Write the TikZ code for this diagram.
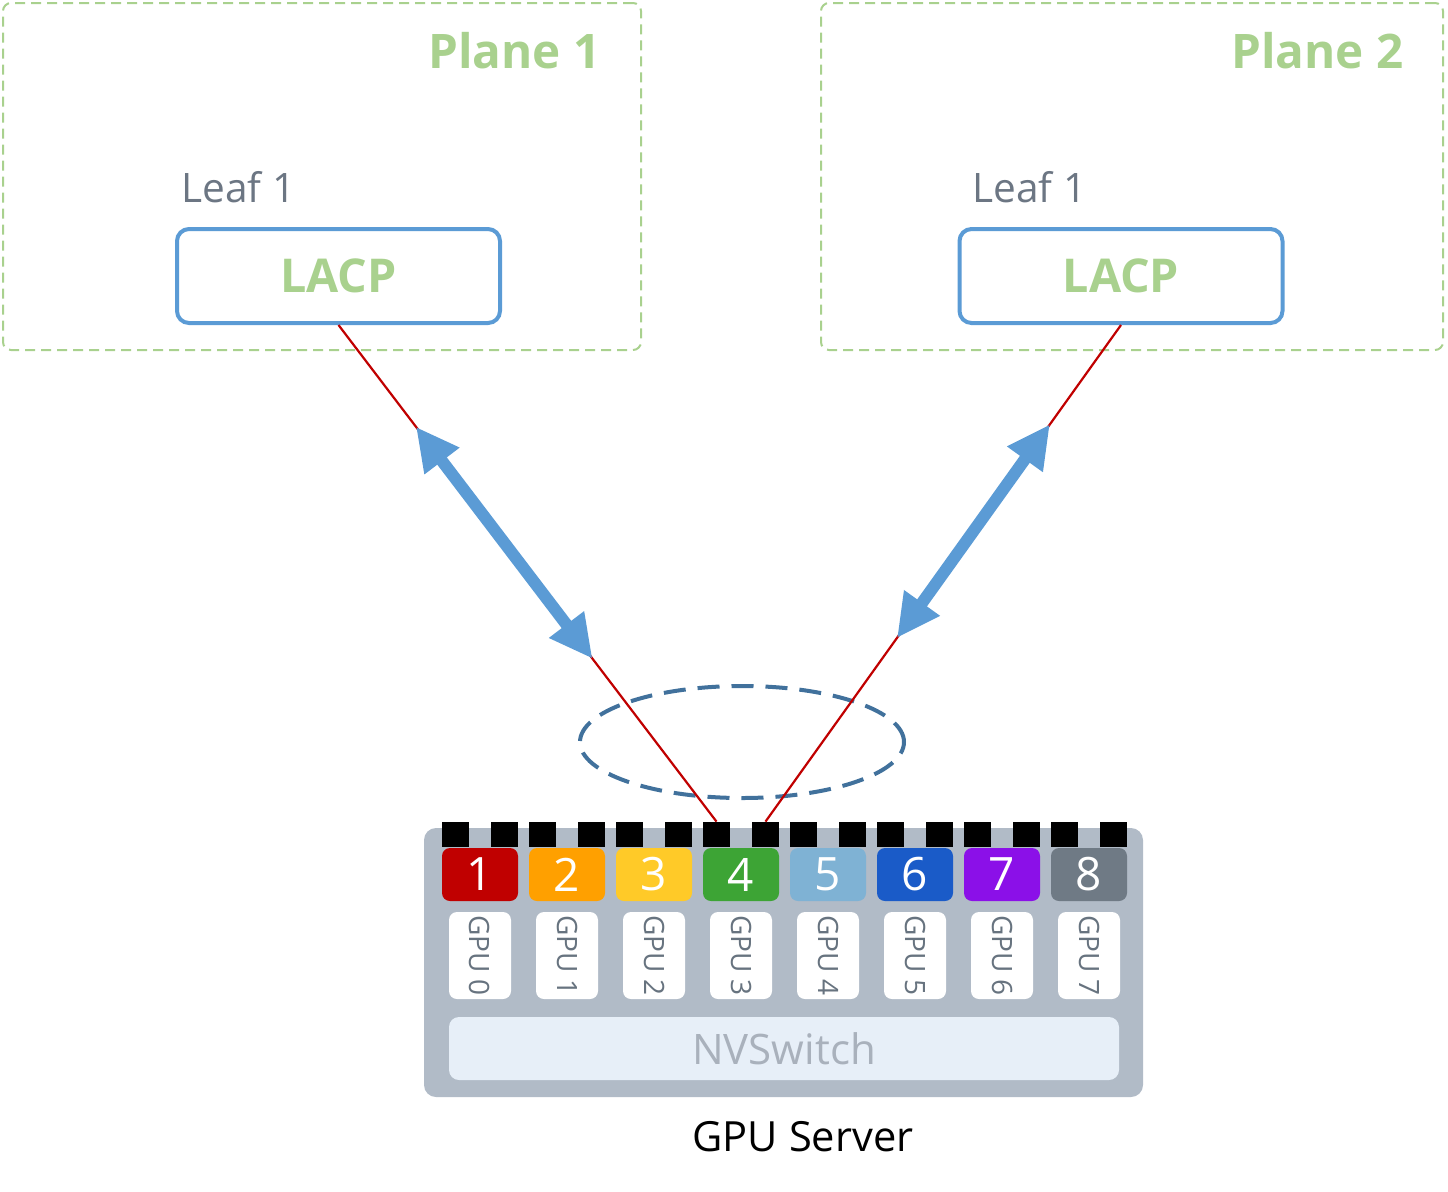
\documentclass[tikz,border=0pt]{standalone}
\usepackage{fontspec}
\setmainfont{Open Sans}
\usepackage{xcolor}
\usetikzlibrary{arrows.meta,shapes.geometric,calc}
\definecolor{planegreen}{HTML}{A9D18E}
\definecolor{leafgray}{HTML}{6C7683}
\definecolor{lacpblue}{HTML}{5B9BD5}
\definecolor{lagblue}{HTML}{41719C}
\definecolor{linkred}{HTML}{C00000}
\definecolor{serverbg}{HTML}{B1BBC7}
\definecolor{switchbg}{HTML}{E7EFF8}
\definecolor{switchtext}{HTML}{A9B1BC}
\definecolor{labelgray}{HTML}{67737F}
\definecolor{gpured}{HTML}{C00000}
\definecolor{gpuorange}{HTML}{FFA000}
\definecolor{gpuyellow}{HTML}{FFCA28}
\definecolor{gpugreen}{HTML}{3DA435}
\definecolor{gpulight}{HTML}{7FB2D4}
\definecolor{gpublue}{HTML}{1A5BC8}
\definecolor{gpupurple}{HTML}{8B10E8}
\definecolor{gpugray}{HTML}{6F7A85}
\tikzset{
  plane box/.style={
    draw=planegreen,
    dash pattern=on 5pt off 3pt,
    line width=1pt,
    rounded corners=4pt,
    minimum height=173.5pt,
    inner sep=0pt,
  },
  plane label/.style={
    font=\bfseries\fontsize{23.8}{28}\selectfont,
    text=planegreen,
    inner sep=0pt,
  },
  leaf label/.style={
    font=\fontsize{20.3}{24}\selectfont,
    text=leafgray,
    inner sep=0pt,
  },
  lacp box/.style={
    draw=lacpblue,
    fill=white,
    line width=2pt,
    rounded corners=6pt,
    minimum width=161.5pt,
    minimum height=47pt,
    font=\bfseries\fontsize{23.3}{28}\selectfont,
    text=planegreen,
    inner sep=0pt,
  },
  server box/.style={
    fill=serverbg,
    rounded corners=6pt,
    minimum width=359.5pt,
    minimum height=134.5pt,
    inner sep=0pt,
  },
  switch box/.style={
    fill=switchbg,
    rounded corners=5pt,
    minimum width=335pt,
    minimum height=31.5pt,
    font=\fontsize{21}{25}\selectfont,
    text=switchtext,
    inner sep=0pt,
  },
  port/.style={fill=black, minimum width=13.5pt, minimum height=12.5pt, inner sep=0pt},
  gpu num/.style={
    rounded corners=4pt,
    minimum width=38pt,
    minimum height=26.5pt,
    font=\fontsize{23}{27}\selectfont,
    text=white,
    inner sep=0pt,
  },
  gpu label/.style={
    fill=white,
    rounded corners=4pt,
    minimum width=31pt,
    minimum height=43.5pt,
    inner sep=0pt,
  },
  gpu text/.style={rotate=-90, font=\fontsize{14}{16}\selectfont, text=labelgray, inner sep=0pt},
  lag ring/.style={
    ellipse,
    draw=lagblue,
    line width=2pt,
    dash pattern=on 11pt off 6pt,
    minimum width=162pt,
    minimum height=56pt,
    inner sep=0pt,
  },
  red link/.style={draw=linkred, line width=1.1pt},
  link arrow/.style={
    draw=lacpblue,
    line width=6pt,
    {Triangle[length=21.5pt,width=20.5pt]}-{Triangle[length=21.5pt,width=20.5pt]},
  },
}

\begin{document}
\begin{tikzpicture}[x=0.5pt, y=-0.5pt]
  \useasboundingbox (0,0) rectangle (1448,1191);

  % planes
  \node[plane box, minimum width=319pt] (plane1) at (322,176.5) {};
  \node[plane box, minimum width=311pt] (plane2) at (1132,176.5) {};
  \node[plane label, anchor=base east] (plane1 label) at (601,68) {Plane 1};
  \node[plane label, anchor=base east] (plane2 label) at (1404,68) {Plane 2};

  % leaves
  \node[leaf label, anchor=base west] (leaf1 label) at (181,202) {Leaf 1};
  \node[leaf label, anchor=base west] (leaf2 label) at (972,202) {Leaf 1};
  \node[lacp box] (l1) at (338.5,276) {LACP};
  \node[lacp box] (l2) at (1121,276) {LACP};

  % server
  \node[server box] (server) at (783.5,962.5) {};
  \node[switch box] (nvswitch) at (784,1048.5) {NVSwitch};
  \node[font=\fontsize{20.8}{25}\selectfont, inner sep=0pt] (server label) at (803,1137) {GPU Server};

  \foreach \i/\col in {1/gpured,2/gpuorange,3/gpuyellow,4/gpugreen,5/gpulight,6/gpublue,7/gpupurple,8/gpugray} {
    \pgfmathsetmacro\cx{480+87*(\i-1)}
    \pgfmathtruncatemacro\n{\i-1}
    \node[gpu num, fill=\col] (g\i) at (\cx,874.5) {\i};
    \node[port] (pl\i) at (\cx-24.5,834.5) {};
    \node[port] (pr\i) at (\cx+24.5,834.5) {};
    \node[gpu label] (lbl\i) at (\cx,955.5) {};
    \node[gpu text] at (lbl\i.center) {GPU \n};
  }

  % bond
  \node[lag ring] (lag) at (742,742) {};

  % links
  \draw[red link] (l1.south) -- (pl4.north);
  \draw[red link] (l2.south) -- (pr4.north);
  \draw[link arrow] ($(l1.south)!0.205!(pl4.north)$) -- ($(l1.south)!0.672!(pl4.north)$);
  \draw[link arrow] ($(l2.south)!0.2!(pr4.north)$) -- ($(l2.south)!0.63!(pr4.north)$);
\end{tikzpicture}
\end{document}
